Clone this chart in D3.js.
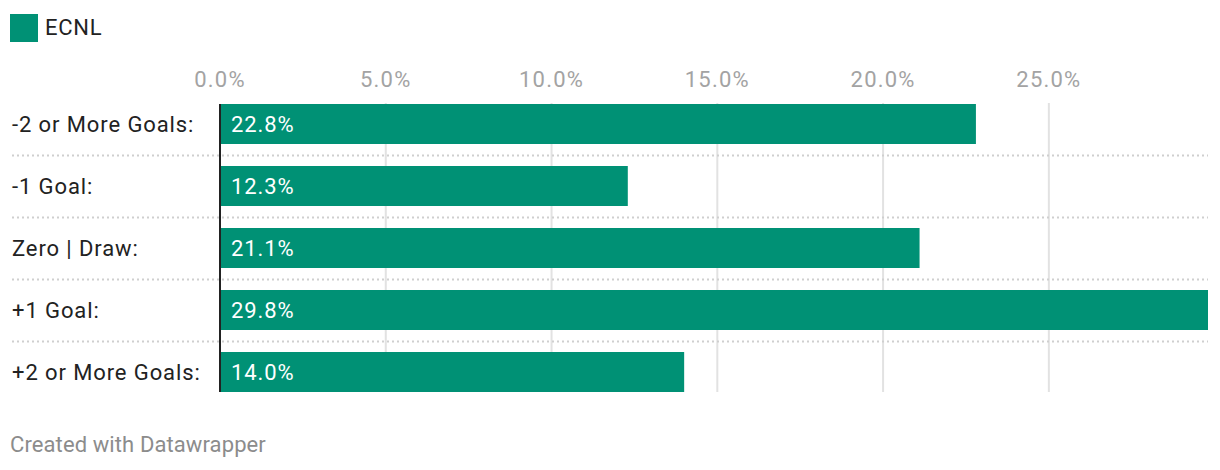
<!DOCTYPE html>
<html><head><meta charset="utf-8">
<script src="https://cdn.jsdelivr.net/npm/d3@7"></script>
<style>
html,body{margin:0;padding:0;background:#fff;}
svg text{font-family:Roboto,"Noto Sans",sans-serif;}
</style></head>
<body>
<svg id="chart" width="1220" height="470"></svg>
<script>
const categories = ["-2 or More Goals:", "-1 Goal:", "Zero | Draw:", "+1 Goal:", "+2 or More Goals:"];
const values = [22.8, 12.3, 21.1, 29.8, 14.0];
const tickValues = [0, 5, 10, 15, 20, 25];
const seriesName = "ECNL";
const footerText = "Created with Datawrapper";

const color = "#009175";
const svg = d3.select("#chart");

const x = d3.scaleLinear().domain([0, 29.8]).range([220, 1208]);
const y = d3.scaleBand().domain(categories).range([104, 392]).paddingInner(22/62).paddingOuter(0);

// legend
svg.append("rect").attr("x", 10).attr("y", 14).attr("width", 28).attr("height", 28).attr("fill", color);
svg.append("text").attr("x", 45).attr("y", 34.5).attr("font-size", 22).attr("letter-spacing", 0.75).attr("fill", "#222").text(seriesName);

// gridlines
svg.append("g").selectAll("line").data(tickValues.filter(d => d > 0)).join("line")
  .attr("x1", d => x(d)).attr("x2", d => x(d))
  .attr("y1", 103).attr("y2", 392)
  .attr("stroke", "#e2e2e2").attr("stroke-width", 2);

// tick labels
svg.append("g").selectAll("text").data(tickValues).join("text")
  .attr("x", d => x(d)).attr("y", 87)
  .attr("text-anchor", "middle").attr("font-size", 22).attr("letter-spacing", 1.2).attr("fill", "#a3a3a3")
  .text(d => d3.format(".1f")(d) + "%");

// separators
const step = y.step();
svg.append("g").selectAll("line").data(categories.slice(1)).join("line")
  .attr("x1", 12).attr("x2", 1208)
  .attr("y1", d => y(d) - (step - y.bandwidth()) / 2 + 0.5)
  .attr("y2", d => y(d) - (step - y.bandwidth()) / 2 + 0.5)
  .attr("stroke", "#cfcfcf").attr("stroke-width", 2).attr("stroke-dasharray", "2,3");

// bars
svg.append("g").selectAll("rect").data(categories).join("rect")
  .attr("x", x(0)).attr("y", d => y(d))
  .attr("width", (d, i) => x(values[i]) - x(0))
  .attr("height", y.bandwidth())
  .attr("fill", color);

// value labels
svg.append("g").selectAll("text").data(categories).join("text")
  .attr("x", x(0) + 11).attr("y", d => y(d) + y.bandwidth() / 2 + 7.5)
  .attr("font-size", 22).attr("letter-spacing", 0.9).attr("fill", "#fff")
  .text((d, i) => d3.format(".1f")(values[i]) + "%");

// category labels
svg.append("g").selectAll("text").data(categories).join("text")
  .attr("x", 12).attr("y", d => y(d) + y.bandwidth() / 2 + 7.5)
  .attr("font-size", 22).attr("letter-spacing", 0.9).attr("fill", "#222")
  .text(d => d);

// zero line
svg.append("line").attr("x1", x(0)).attr("x2", x(0)).attr("y1", 104).attr("y2", 392)
  .attr("stroke", "#222").attr("stroke-width", 2);

// footer
svg.append("text").attr("x", 10).attr("y", 451.5).attr("font-size", 22).attr("letter-spacing", 0.1).attr("fill", "#8c8c8c").text(footerText);
</script>
</body></html>
